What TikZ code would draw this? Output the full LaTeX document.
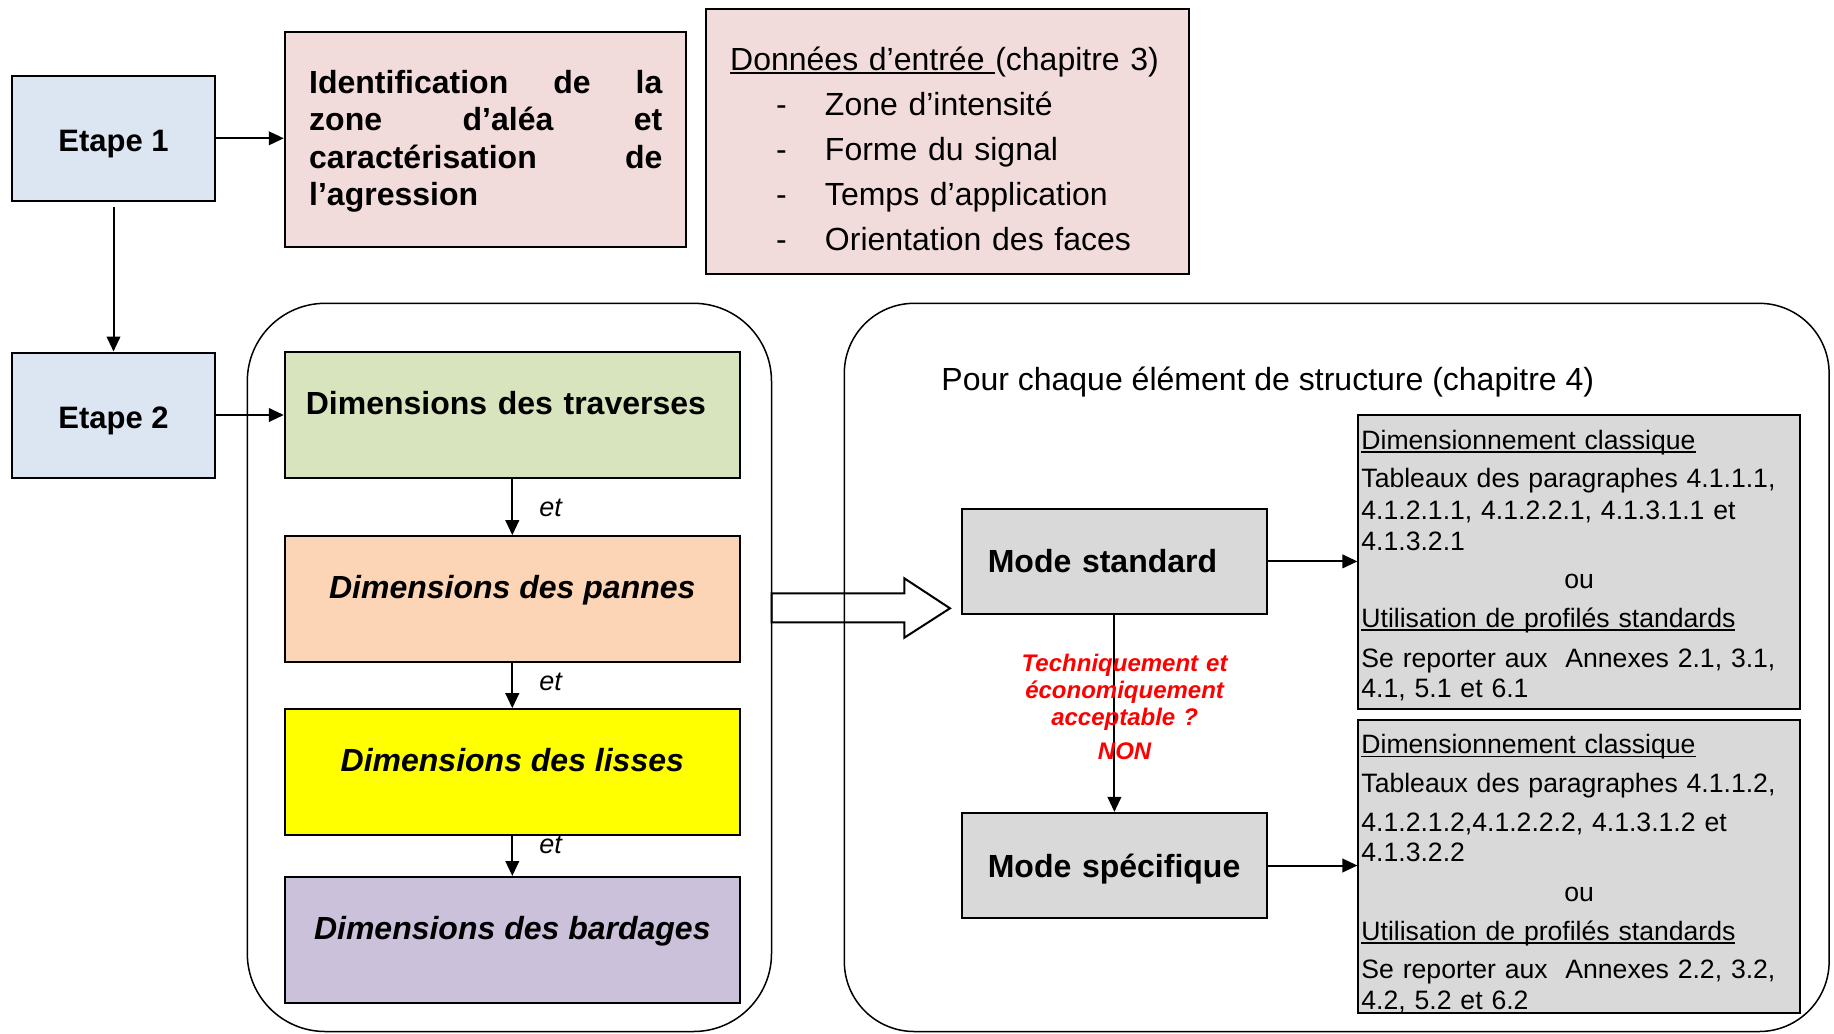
\documentclass[tikz,border=0pt]{standalone}
\usepackage{fontspec}
\setmainfont{Liberation Sans}
\usetikzlibrary{arrows.meta,positioning}
\definecolor{etapeblue}{HTML}{DCE6F2}
\definecolor{pinkbox}{HTML}{F2DCDB}
\definecolor{greenbox}{HTML}{D7E4BD}
\definecolor{orangebox}{HTML}{FBD5B5}
\definecolor{yellowbox}{HTML}{FFFF00}
\definecolor{purplebox}{HTML}{CCC1DA}
\definecolor{greybox}{HTML}{D9D9D9}
\newsavebox\undlbox
\newcommand\undl[1]{\leavevmode\sbox\undlbox{#1}\rlap{\rule[-0.13em]{\wd\undlbox}{0.06em}}\usebox\undlbox}
\newcommand\dashitem{\makebox[47.4pt][l]{\hspace*{23pt}-}}
\begin{document}
\begin{tikzpicture}[x=0.5pt, y=-0.5pt,
        every node/.style={inner sep=0pt},
        stepbox/.style={draw, line width=1pt, fill=etapeblue, minimum width=101.8pt, minimum height=62.5pt, font=\bfseries\fontsize{15.5}{18}\selectfont, text height=13.5pt, text depth=0pt},
        dimbox/.style={draw, line width=1pt, minimum width=227.5pt, minimum height=63pt, font=\bfseries\fontsize{16}{19}\selectfont, text height=11.5pt, text depth=12pt},
        dimital/.style={dimbox, font=\bfseries\itshape\fontsize{16}{19}\selectfont},
        modebox/.style={draw, line width=1pt, fill=greybox, minimum width=152.4pt, minimum height=52.6pt, inner xsep=12.9pt, text width=126.6pt, align=left, font=\bfseries\fontsize{16}{19}\selectfont, text height=11.5pt, text depth=0pt},
        refbox/.style={draw, line width=1pt, fill=greybox, text width=217.8pt, inner xsep=1.5pt, align=left, font=\fontsize{13.3}{15.4}\selectfont},
        groupbox/.style={draw, line width=0.75pt, minimum height=364.1pt},
        flow/.style={-{Triangle[length=7.5pt,width=6.8pt]}, line width=1pt},
        etlabel/.style={anchor=base west, xshift=13pt, font=\itshape\fontsize{13.5}{16}\selectfont},
        redlabel/.style={anchor=base, text width=110pt, align=center, text=red, font=\bfseries\itshape\fontsize{12}{13.6}\selectfont}
        ]
\useasboundingbox (0,0) rectangle (1834,1033);
\node[stepbox] (etape1) at (113.5,138.3) {Etape 1};
\node[stepbox] (etape2) at (113.5,415) {Etape 2};
\node[draw, line width=1pt, fill=pinkbox, minimum width=200.6pt, minimum height=107.5pt] (ident) at (485.4,139.2) {};
\node[anchor=base west, text width=176.6pt, align=left, font=\bfseries\fontsize{16}{18.7}\selectfont] (identtext) at (308.8,93.4)
    {Identification\hfill de\hfill la\\ zone\hfill d’aléa\hfill et\\ caractérisation\hfill de\\ l’agression};
\node[draw, line width=1pt, fill=pinkbox, minimum width=241.6pt, minimum height=132.6pt] (donnees) at (947.4,141.7) {};
\node[anchor=base west, text width=225pt, align=left, font=\fontsize{16}{22.5}\selectfont] (donneestext) at (729.8,70)
    {\undl{Données d’entrée }(chapitre 3)\\ \dashitem Zone d’intensité\\ \dashitem Forme du signal\\ \dashitem Temps d’application\\ \dashitem Orientation des faces};
\node[groupbox, minimum width=262.1pt, rounded corners=39pt] (dimgroup) at (509.4,667.4) {};
\node[groupbox, minimum width=492.4pt, rounded corners=35pt] (modegroup) at (1336.7,667.4) {};
\node[dimbox, fill=greenbox, inner xsep=10.5pt, text width=206.5pt, align=left] (traverses) at (512.3,415.3) {Dimensions des traverses};
\node[dimital, fill=orangebox] (pannes) at (512.3,599.2) {Dimensions des pannes};
\node[dimital, fill=yellowbox] (lisses) at (512.3,772.2) {Dimensions des lisses};
\node[dimital, fill=purplebox] (bardages) at (512.3,940) {Dimensions des bardages};
\node[anchor=base west, font=\fontsize{16}{19}\selectfont] (pourchaque) at (941,390.5) {Pour chaque élément de structure (chapitre 4)};
\node[modebox] (standard) at (1114.4,561.4) {Mode standard};
\node[modebox] (specifique) at (1114.4,865.5) {Mode spécifique};
\node[refbox, minimum height=147pt] (classA) at (1579.2,562) {%
    \rule{0pt}{13.2pt}\undl{Dimensionnement classique}\\[3.9pt]
    Tableaux des paragraphes 4.1.1.1,\\[0.4pt]
    4.1.2.1.1, 4.1.2.2.1, 4.1.3.1.1 et\\
    4.1.3.2.1\\[3.9pt]
    \makebox[\linewidth]{ou}\\[3.9pt]
    \undl{Utilisation de profilés standards}\\[4.5pt]
    Se reporter aux\ \ Annexes 2.1, 3.1,\\
    4.1, 5.1 et 6.1};
\node[refbox, minimum height=146.6pt] (classB) at (1579.2,866.7) {%
    \rule{0pt}{16.7pt}\undl{Dimensionnement classique}\\[3.9pt]
    Tableaux des paragraphes 4.1.1.2,\\[3.9pt]
    4.1.2.1.2,4.1.2.2.2, 4.1.3.1.2 et\\
    4.1.3.2.2\\[4.5pt]
    \makebox[\linewidth]{ou}\\[3.9pt]
    \undl{Utilisation de profilés standards}\\[3.9pt]
    Se reporter aux\ \ Annexes 2.2, 3.2,\\
    4.2, 5.2 et 6.2};
\draw[flow] (etape1.east) -- (etape1.east -| ident.west);
\draw[flow, shorten <=2.75pt] (etape1) -- (etape2);
\draw[flow] (etape2.east) -- (etape2.east -| traverses.west);
\draw[flow] (traverses) -- node[etlabel, pos=0.66] {et} (pannes);
\draw[flow] (pannes) -- node[etlabel, pos=0.6] {et} (lisses);
\draw[flow] (lisses) -- node[etlabel, pos=0.43] {et} (bardages);
\draw[line width=1pt] (771.5,593.3) -- (904.3,593.3) -- (904.3,578.3) -- (950,608.3) -- (904.3,637.7) -- (904.3,622.3) -- (771.5,622.3) -- cycle;
\draw[flow] (standard.east) -- (standard.east -| classA.west);
\draw[flow] (specifique.east) -- (specifique.east -| classB.west);
\draw[flow] (standard) -- (specifique);
\node[redlabel] (question) at (1124.6,671.3) {Techniquement et\\ économiquement\\ acceptable ?\\[3.4pt] NON};
\end{tikzpicture}
\end{document}
